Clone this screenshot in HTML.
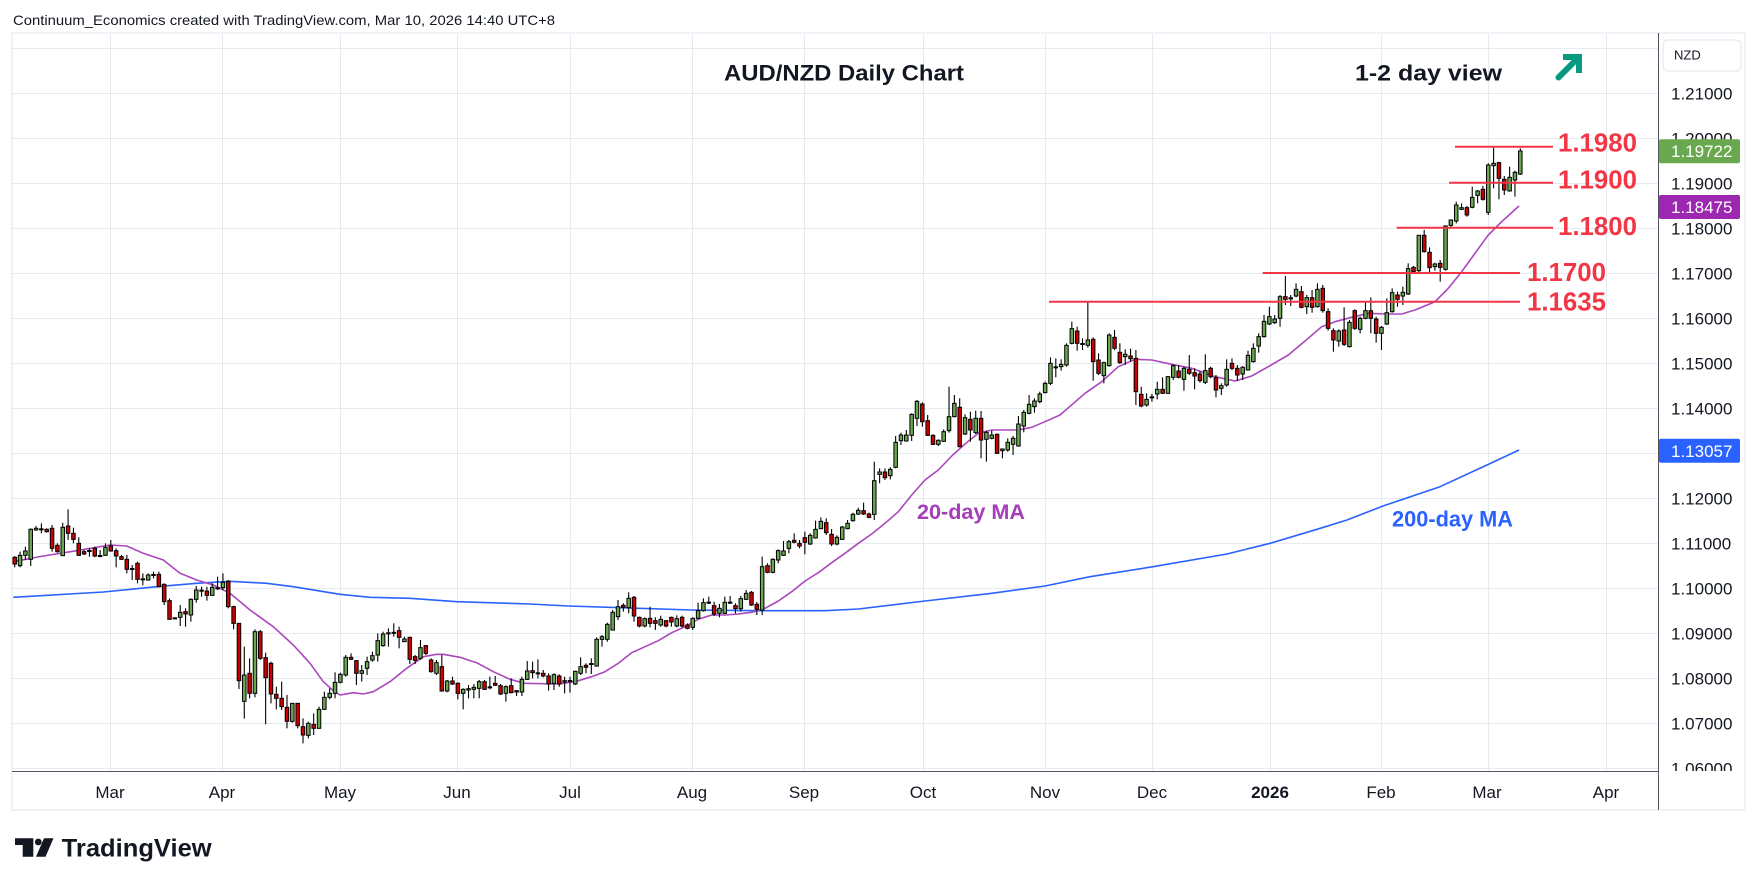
<!DOCTYPE html>
<html><head><meta charset="utf-8">
<style>
html,body{margin:0;padding:0;background:#fff;}
svg{display:block;}
</style></head>
<body>
<svg id="c" width="1758" height="886" viewBox="0 0 1758 886" xmlns="http://www.w3.org/2000/svg" font-family="'Liberation Sans', Arial, sans-serif">
<defs>
<clipPath id="pane"><rect x="12" y="33" width="1646" height="738"/></clipPath>
<clipPath id="axisclip"><rect x="1659" y="33" width="90" height="738"/></clipPath>
</defs>
<rect width="1758" height="886" fill="#fff"/>
<text x="13" y="25" font-size="14" fill="#131722" textLength="542" lengthAdjust="spacingAndGlyphs">Continuum_Economics created with TradingView.com, Mar 10, 2026 14:40 UTC+8</text>
<rect x="12" y="33" width="1733" height="777" fill="none" stroke="#eff2f6" stroke-width="2"/>

<g stroke="#e4ebf1" stroke-width="1" shape-rendering="crispEdges">
<line x1="12" x2="1658" y1="48.5" y2="48.5"/>
<line x1="12" x2="1658" y1="93.5" y2="93.5"/>
<line x1="12" x2="1658" y1="138.5" y2="138.5"/>
<line x1="12" x2="1658" y1="183.5" y2="183.5"/>
<line x1="12" x2="1658" y1="228.5" y2="228.5"/>
<line x1="12" x2="1658" y1="273.5" y2="273.5"/>
<line x1="12" x2="1658" y1="318.5" y2="318.5"/>
<line x1="12" x2="1658" y1="363.5" y2="363.5"/>
<line x1="12" x2="1658" y1="408.5" y2="408.5"/>
<line x1="12" x2="1658" y1="453.5" y2="453.5"/>
<line x1="12" x2="1658" y1="498.5" y2="498.5"/>
<line x1="12" x2="1658" y1="543.5" y2="543.5"/>
<line x1="12" x2="1658" y1="588.5" y2="588.5"/>
<line x1="12" x2="1658" y1="633.5" y2="633.5"/>
<line x1="12" x2="1658" y1="678.5" y2="678.5"/>
<line x1="12" x2="1658" y1="723.5" y2="723.5"/>
<line x1="12" x2="1658" y1="768.5" y2="768.5"/>
<line y1="34" y2="771" x1="110.5" x2="110.5"/>
<line y1="34" y2="771" x1="222.5" x2="222.5"/>
<line y1="34" y2="771" x1="340.5" x2="340.5"/>
<line y1="34" y2="771" x1="457.5" x2="457.5"/>
<line y1="34" y2="771" x1="570.5" x2="570.5"/>
<line y1="34" y2="771" x1="692.5" x2="692.5"/>
<line y1="34" y2="771" x1="804.5" x2="804.5"/>
<line y1="34" y2="771" x1="923.5" x2="923.5"/>
<line y1="34" y2="771" x1="1045.5" x2="1045.5"/>
<line y1="34" y2="771" x1="1152.5" x2="1152.5"/>
<line y1="34" y2="771" x1="1270.5" x2="1270.5"/>
<line y1="34" y2="771" x1="1381.5" x2="1381.5"/>
<line y1="34" y2="771" x1="1488.5" x2="1488.5"/>
<line y1="34" y2="771" x1="1606.5" x2="1606.5"/>
</g>

<text x="724" y="80.5" font-size="22" font-weight="bold" fill="#131722" textLength="240" lengthAdjust="spacingAndGlyphs">AUD/NZD Daily Chart</text>
<text x="1355" y="80.7" font-size="22" font-weight="bold" fill="#131722" textLength="147" lengthAdjust="spacingAndGlyphs">1-2 day view</text>
<g stroke="#089981" stroke-width="6" fill="none">
<path d="M1558.5 77.5 L1577 59" stroke-linecap="round"/>
<path d="M1563 57 L1579 57 L1579 73" stroke-linejoin="miter"/>
</g>

<g clip-path="url(#pane)">
<polyline fill="none" stroke="#2962ff" stroke-width="1.6" stroke-linejoin="round" points="13.3,597.3 103.3,592 156.7,586.7 196.7,583.3 230,581.3 266.7,583.3 293.3,586.7 340,594.3 370,597.3 410,598.3 456.7,601.7 530,604 568.3,606 691.7,610 758.3,610.7 825,610.7 858.3,609 925,601 991.7,593.3 1045,586 1090,576.7 1153,566.7 1227,554 1270,543.3 1317,529.3 1347,520 1383,506 1440,486.7 1487,465 1519,450"/>
<polyline fill="none" stroke="#ab47bc" stroke-width="1.6" stroke-linejoin="round" points="13.3,561.7 43.3,556 76.7,550.7 110,545 126.7,546 143.3,553.3 163.3,560 180,573.3 196.7,580 213.3,585 230,593.3 250,610 273.3,626.7 293.3,645 310,663.3 323.3,681.7 333.3,690.7 340,695 353.3,692.7 363.3,694 373.3,691.7 390,681.7 406.7,668.3 423.3,656.7 436.7,654.3 443.3,654.3 460,657.3 476.7,662.7 493.3,671.7 510,679.3 525,683.3 558.3,684 575,681.7 591.7,676.7 605,671.7 618.3,663.3 631.7,652.7 645,646.7 658.3,640.7 671.7,632.7 685,626.7 698.3,619.3 711.7,615 725,615 738.3,614 751.7,612.3 765,608.3 778.3,601 791.7,591.7 805,581 818.3,572.7 831.7,562.7 845,553.3 858.3,543.3 871.7,534 885,523.3 898.3,511.7 911.7,495 925,480 938.3,470 951.7,456 965,444 978.3,433.3 991.7,430 1005,430 1018.3,430 1031.7,427.3 1045,421.7 1060,415 1085,393.3 1101.7,381.7 1118.3,366.7 1135,359.3 1151.7,360 1171.7,364.3 1191.7,368.3 1215,376.7 1235,381 1251.7,376 1268.3,366.7 1288.3,355 1308.3,338.3 1321.7,326.7 1335,321.7 1351.7,317.3 1368.3,313.3 1385,314 1401.7,314 1415,310 1435,301.7 1448.3,288.3 1461.7,271.7 1475,253.3 1488.3,235 1501.7,221.7 1519,206"/>
<g id="candles"></g>
<g stroke="#f23645" stroke-width="2">
<line x1="1455" x2="1553" y1="146.7" y2="146.7"/>
<line x1="1449" x2="1553" y1="182.7" y2="182.7"/>
<line x1="1396.7" x2="1553" y1="227.7" y2="227.7"/>
<line x1="1262.7" x2="1520" y1="273" y2="273"/>
<line x1="1049" x2="1520" y1="301.7" y2="301.7"/>
</g>
<g font-size="25.5" font-weight="bold" fill="#f23645">
<text x="1558" y="151.7" textLength="79" lengthAdjust="spacingAndGlyphs">1.1980</text>
<text x="1558" y="188.3" textLength="79" lengthAdjust="spacingAndGlyphs">1.1900</text>
<text x="1558" y="235" textLength="79" lengthAdjust="spacingAndGlyphs">1.1800</text>
<text x="1527" y="281" textLength="79" lengthAdjust="spacingAndGlyphs">1.1700</text>
<text x="1527" y="310.5" textLength="79" lengthAdjust="spacingAndGlyphs">1.1635</text>
</g>
<text x="917" y="519" font-size="21.5" font-weight="bold" fill="#a53cb8" textLength="108" lengthAdjust="spacingAndGlyphs">20-day MA</text>
<text x="1392" y="526.5" font-size="22" font-weight="bold" fill="#2962ff" textLength="121" lengthAdjust="spacingAndGlyphs">200-day MA</text>
</g>

<line x1="12" x2="1658" y1="771.5" y2="771.5" stroke="#50535e" stroke-width="1" shape-rendering="crispEdges"/>
<line x1="1658.5" x2="1658.5" y1="33" y2="810" stroke="#50535e" stroke-width="1" shape-rendering="crispEdges"/>

<g font-size="17" fill="#131722" clip-path="url(#axisclip)">
<text x="1671" y="99.6">1.21000</text>
<text x="1671" y="144.5">1.20000</text>
<text x="1671" y="189.5">1.19000</text>
<text x="1671" y="234.5">1.18000</text>
<text x="1671" y="279.5">1.17000</text>
<text x="1671" y="324.5">1.16000</text>
<text x="1671" y="369.5">1.15000</text>
<text x="1671" y="414.5">1.14000</text>
<text x="1671" y="459.5">1.13000</text>
<text x="1671" y="504.5">1.12000</text>
<text x="1671" y="549.5">1.11000</text>
<text x="1671" y="594.5">1.10000</text>
<text x="1671" y="639.5">1.09000</text>
<text x="1671" y="684.5">1.08000</text>
<text x="1671" y="729.5">1.07000</text>
<text x="1671" y="774.5">1.06000</text>
</g>
<rect x="1663" y="40" width="78" height="31" rx="5" fill="#fff" stroke="#e6e9ef" stroke-width="1.2"/>
<text x="1674" y="59.5" font-size="13" fill="#131722">NZD</text>

<rect x="1659" y="139.3" width="81" height="24" rx="2" fill="#6aa84f"/>
<text x="1671" y="157.2" font-size="17" fill="#fff">1.19722</text>
<rect x="1659" y="195" width="81" height="24" rx="2" fill="#9c27b0"/>
<text x="1671" y="213" font-size="17" fill="#fff">1.18475</text>
<rect x="1659" y="438.7" width="81" height="24" rx="2" fill="#2962ff"/>
<text x="1671" y="456.8" font-size="17" fill="#fff">1.13057</text>

<g font-size="17" fill="#131722" text-anchor="middle">
<text x="110" y="798">Mar</text>
<text x="222" y="798">Apr</text>
<text x="340" y="798">May</text>
<text x="457" y="798">Jun</text>
<text x="570" y="798">Jul</text>
<text x="692" y="798">Aug</text>
<text x="804" y="798">Sep</text>
<text x="923" y="798">Oct</text>
<text x="1045" y="798">Nov</text>
<text x="1152" y="798">Dec</text>
<text x="1270" y="798" font-weight="bold">2026</text>
<text x="1381" y="798">Feb</text>
<text x="1487" y="798">Mar</text>
<text x="1606" y="798">Apr</text>
</g>

<g fill="#131722">
<path d="M15 838.3 H33.3 V856.7 H22.7 V845 H15 Z"/>
<circle cx="38.3" cy="842" r="3.4"/>
<path d="M44 838.3 H53.5 L45.5 856.7 H36 Z"/>
</g>
<text x="61.7" y="856.7" font-size="25" font-weight="bold" fill="#131722" textLength="150" lengthAdjust="spacingAndGlyphs">TradingView</text>
</svg>

<script>
(function(){
var A=[[0,232,252,228,262],[1,226,257,215,262],[1,213,226,200,240],[1,148,238,145,258],[1,145,150,138,152],[2,148,148,130,160],[0,148,155,145,158],[0,145,205,135,215],[0,196,215,190,218],[1,142,227,128,227],
[0,138,160,88,180],[0,160,178,143,190],[0,190,226,172,228],[0,215,222,210,225],[2,213,213,205,230],[0,205,228,200,232],[2,228,228,210,232],[1,202,226,190,228],[0,198,213,180,215],[0,212,228,205,262],
[0,230,238,225,240],[0,238,268,225,280],[2,267,267,255,300],[0,250,298,245,310],[2,298,298,280,316],[1,285,300,280,302],[2,285,285,275,295],[0,283,320,275,322],[0,313,365,310,375],[0,362,418,355,418],
[2,415,415,412,418],[1,397,412,375,438],[0,395,402,385,440],[1,358,405,355,425],[1,330,358,318,368],[2,332,332,320,350],[0,333,346,320,362],[1,322,346,310,348],[2,325,325,290,330],[1,307,323,280,330],
[0,304,380,300,385],[0,380,430,377,448],[0,430,602,430,627],[1,585,664,500,716],[0,580,640,535,655],[1,455,640,448,652],[0,455,535,450,540],[0,533,593,518,733],[0,550,642,545,670],[0,643,655,620,688],
[0,655,680,605,690],[0,682,724,645,745],[1,670,724,670,728],[0,670,737,670,745],[0,740,765,715,790],[1,730,766,725,775],[0,733,745,700,765],[1,688,745,680,745],[1,652,688,635,690],[1,640,652,625,658],
[1,607,640,577,655],[1,583,607,578,610],[1,532,585,525,590],[0,532,538,520,540],[0,542,580,540,615],[1,572,580,555,605],[1,545,565,530,585],[1,527,540,515,545],[1,482,525,460,545],[1,462,497,455,500],
[2,460,460,445,500],[0,457,460,430,470],[0,452,472,440,505],[1,477,485,470,485],[0,472,538,470,552],[0,530,541,525,552],[1,503,535,480,540],[0,497,520,495,525],[0,540,575,535,578],[1,548,580,540,585],
[0,560,633,525,635],[1,603,633,600,637],[0,603,612,590,615],[0,610,640,607,658],[1,628,640,625,688],[1,626,630,615,655],[1,622,628,612,655],[1,605,625,600,655],[0,605,628,600,630],[2,622,622,590,628],
[0,610,616,588,618],[0,617,642,612,645],[1,620,640,616,665],[0,617,638,595,640],[0,632,636,630,648],[1,598,636,590,648],[1,573,598,543,600]];
var B=[[0,872,878,845,895],[2,880,880,838,895],[0,880,888,870,892],[0,888,912,880,932],[1,884,910,880,930],[0,888,912,883,920],[1,902,906,890,940],[2,903,903,890,938],[1,874,912,872,915],[1,860,880,832,885],
[0,856,862,850,880],[2,852,852,835,882],[1,778,858,772,860],[1,770,778,765,800],[1,733,778,728,785],[1,697,750,690,752],[1,680,710,660,720],[0,676,682,670,695],[1,655,683,637,700],[0,652,708,648,725],
[0,712,738,710,742],[1,716,738,712,742],[0,715,730,680,742],[0,722,730,712,750],[1,718,735,707,740],[0,722,738,720,742],[0,712,726,710,740],[1,716,738,706,742],[0,712,738,707,742],[0,735,745,730,748],
[1,715,742,712,750],[1,692,715,668,718],[1,668,692,655,695],[2,668,668,650,672],[0,677,702,665,708],[1,685,700,672,712],[1,667,700,650,702],[2,668,668,648,672],[0,677,686,670,700],[1,656,686,648,695],
[1,640,658,630,660],[0,637,675,633,678],[0,673,688,666,705],[1,560,690,530,705],[0,557,577,550,580],[1,538,577,535,580],[1,512,540,508,550],[1,513,526,483,528],[1,485,505,480,520],[0,481,487,460,490],
[0,490,498,480,505],[0,473,487,455,523],[1,466,492,460,495],[1,448,474,422,476],[1,424,446,412,448],[0,428,458,415,465],[0,463,492,447,498],[1,472,492,466,496],[1,441,478,438,480],[1,430,446,420,448],
[1,403,422,398,425],[1,391,402,383,405],[0,392,402,368,405],[0,402,412,398,415],[1,302,403,245,420],[1,276,283,265,310],[0,276,293,265,300],[1,268,287,262,298],[1,187,262,168,265],[1,165,182,158,195],
[1,165,183,150,185],[1,103,166,100,183],[1,64,115,60,138],[0,72,125,67,140],[0,122,166,105,168],[0,166,193,163,195],[1,181,193,178,198],[1,155,184,148,186],[1,110,152,20,158],[1,70,110,45,112],
[0,82,200,55,202],[1,113,162,103,165],[0,118,150,95,185],[1,115,158,92,162],[0,115,180,93,235],[1,157,178,152,245],[1,165,175,152,178],[0,163,220,160,222],[1,207,212,205,235],[1,187,210,175,215],
[1,175,193,168,225],[1,132,198,108,200],[1,97,138,90,157],[1,73,100,45,103],[1,63,80,55,98]];
var C=[[1,822,845,815,850],[1,790,818,785,820],[1,730,790,712,795],[2,742,742,715,772],[1,733,740,718,752],[1,676,735,670,740],[1,626,670,605,673],[0,633,670,620,692],[2,672,672,655,690],[1,660,676,543,683],
[0,658,725,652,782],[0,720,760,700,765],[1,728,767,725,790],[1,645,737,640,740],[0,652,685,630,690],[0,697,728,670,732],[1,703,710,688,735],[0,708,716,686,725],[0,715,815,690,855],[0,823,858,800,862],
[1,838,855,820,860],[2,832,832,822,845],[1,808,822,785,838],[0,808,820,772,822],[1,770,820,768,822],[1,737,772,733,780],[0,753,772,735,775],[1,745,778,740,812],[0,748,760,705,765],[0,758,768,745,808],
[0,762,782,752,788],[1,752,787,703,792],[0,745,770,740,775],[0,773,810,765,832],[1,797,805,790,825],[1,748,795,718,800],[0,730,745,715,750],[0,745,765,735,783],[1,742,762,738,780],[1,706,750,692,752],
[1,685,725,670,728],[1,650,678,640,698],[1,604,650,585,653],[1,590,612,560,615],[1,597,608,585,612],[1,530,595,525,620],[0,530,538,468,555],[2,535,535,525,558],[1,508,528,490,532],[0,515,562,498,565],
[1,533,560,525,582],[0,533,562,510,578],[1,508,560,490,563],[0,505,572,495,578],[0,575,625,565,632],[0,632,660,625,695],[1,633,663,628,680],[0,630,673,562,678],[1,607,680,600,682],[0,572,625,568,630],
[1,595,628,590,640],[1,572,595,548,598],[0,572,595,532,640],[0,597,640,590,668],[1,622,640,618,690],[1,578,612,535,615],[1,518,575,505,578],[0,525,538,515,560],[1,517,528,500,555],[1,446,522,430,525],
[0,442,455,438,458],[1,346,452,345,457],[0,346,395,330,398],[0,397,443,382,460],[1,432,440,428,452],[0,430,442,420,485],[1,318,448,316,452],[1,300,316,298,322],[1,255,303,245,310],[1,263,268,250,270],
[0,263,285,258,290],[1,232,262,200,265],[1,213,226,210,250],[0,208,238,198,242],[1,135,277,130,285],[1,130,137,82,205],[0,128,175,125,238],[0,178,210,168,225],[1,172,213,140,215],[1,157,180,152,230],
[1,93,162,85,165]];
var NS='http://www.w3.org/2000/svg';
var g=document.getElementById('candles');
function el(name,attrs){var e=document.createElementNS(NS,name);for(var k in attrs){e.setAttribute(k,attrs[k]);}g.appendChild(e);}
function seg(arr,off,start){
  for(var k=0;k<arr.length;k++){
    var d=arr[k], i=start+k;
    var x=14.7+5.339*i;
    var bt=off+d[1]/3, bb=off+d[2]/3, wt=off+d[3]/3, wb=off+d[4]/3;
    if(bb-bt<1){var m=(bt+bb)/2;bt=m-0.5;bb=m+0.5;}
    var fill=(d[0]===0)?'#cc0000':'#6aa84f';
    el('line',{x1:x.toFixed(2),x2:x.toFixed(2),y1:wt.toFixed(2),y2:wb.toFixed(2),stroke:'#000','stroke-width':'1.1'});
    el('rect',{x:(x-1.75).toFixed(2),y:bt.toFixed(2),width:'3.5',height:(bb-bt).toFixed(2),fill:fill,stroke:'#000','stroke-width':'1'});
  }
}
seg(A,480,0);
seg(B,380,97);
seg(C,120,192);
})();
</script>
</body></html>
